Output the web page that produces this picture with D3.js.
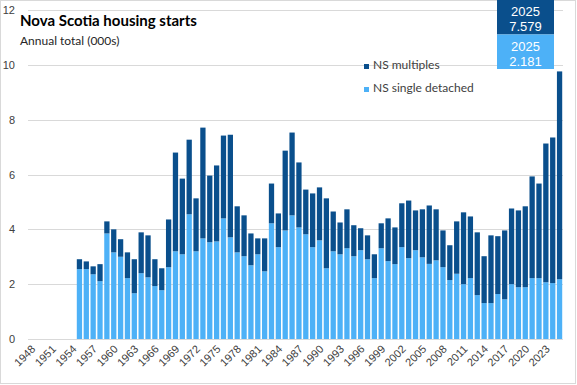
<!DOCTYPE html>
<html>
<head>
<meta charset="utf-8">
<script src="https://cdn.jsdelivr.net/npm/d3@7"></script>
<style>
  body { margin: 0; background: #fff; }
  svg { display: block; }
</style>
</head>
<body>
<div id="chart"></div>
<script>
// Nova Scotia housing starts, annual totals in thousands
var firstYear = 1948;
var lastYear = 2025;
var dataStart = 1955;

// NS single detached, 1955 - 2025
var singleDetached = [
  2.55, 2.55, 2.36, 2.11, 3.85, 3.16, 3.00, 2.22, 1.67, 2.40, 2.25, 1.93,
  1.78, 2.62, 3.20, 3.09, 4.55, 3.20, 3.67, 3.53, 3.56, 4.40, 3.71, 3.16,
  3.02, 2.69, 3.09, 2.47, 4.22, 3.35, 3.96, 4.51, 4.07, 3.82, 3.35, 3.60,
  2.58, 3.20, 3.09, 3.31, 3.02, 3.24, 2.91, 2.22, 3.31, 2.84, 2.73, 3.35,
  2.95, 3.24, 2.98, 2.74, 2.87, 2.62, 2.15, 2.38, 2.00, 2.22, 1.60, 1.31,
  1.31, 1.64, 1.45, 2.00, 1.89, 1.89, 2.22, 2.22, 2.07, 2.04, 2.181
];

// NS multiples, 1955 - 2025
var multiples = [
  0.36, 0.28, 0.29, 0.62, 0.44, 0.84, 0.64, 0.94, 1.24, 1.49, 1.53, 0.98,
  0.80, 1.74, 3.60, 2.76, 2.72, 1.93, 4.04, 2.43, 2.77, 3.02, 3.74, 1.68,
  1.49, 1.16, 0.58, 1.20, 1.45, 1.23, 2.91, 3.02, 2.37, 1.63, 1.96, 1.93,
  2.55, 1.45, 1.16, 1.42, 1.13, 0.80, 0.87, 0.87, 0.91, 1.56, 1.34, 1.60,
  2.10, 1.45, 1.75, 2.13, 1.86, 1.34, 1.27, 1.91, 2.62, 2.25, 2.29, 1.71,
  2.47, 2.11, 2.51, 2.76, 2.80, 2.95, 3.71, 3.45, 5.06, 5.31, 7.579
];

var yTicks = [0, 2, 4, 6, 8, 10, 12];
var seriesNames = ["NS multiples", "NS single detached"];

var darkBlue = "#0A4F8C";
var lightBlue = "#4DB1F7";

var svgWidth = 577;
var svgHeight = 385;

var plot = { left: 28, right: 563, top: 10, bottom: 339 };

var svg = d3.select("#chart")
  .append("svg")
  .attr("width", svgWidth)
  .attr("height", svgHeight);

// chart area border
svg.append("rect")
  .attr("x", 0.5).attr("y", 0.5)
  .attr("width", svgWidth - 2).attr("height", svgHeight - 2)
  .attr("fill", "none")
  .attr("stroke", "#d9d9d9");

var years = d3.range(firstYear, lastYear + 1);

// build the table for the stack
var table = singleDetached.map(function(s, i) {
  return { year: dataStart + i, single: s, multi: multiples[i] };
});

var xScale = d3.scaleBand()
  .domain(years)
  .range([plot.left, plot.right])
  .paddingInner(0.23)
  .paddingOuter(0.115);

var yScale = d3.scaleLinear()
  .domain([0, 12])
  .range([plot.bottom, plot.top]);

// gridlines
svg.append("g")
  .selectAll("line")
  .data(yTicks)
  .enter()
  .append("line")
  .attr("x1", plot.left)
  .attr("x2", plot.right)
  .attr("y1", d => Math.round(yScale(d)) + 0.5)
  .attr("y2", d => Math.round(yScale(d)) + 0.5)
  .attr("stroke", "#d9d9d9")
  .attr("stroke-width", 1);

// y axis labels
var leftAxis = d3.axisLeft(yScale).tickValues(yTicks).tickSize(0).tickPadding(0);
var yAxis = svg.append("g")
  .attr("transform", "translate(15,0)")
  .call(leftAxis);
yAxis.select(".domain").remove();
yAxis.selectAll("text")
  .style("font-family", "'Liberation Sans', Arial, sans-serif")
  .style("font-size", "11px")
  .attr("fill", "#404040");

// stacked bars
var stacked = d3.stack().keys(["single", "multi"])(table);
var colors = { single: lightBlue, multi: darkBlue };

svg.append("g")
  .selectAll("g")
  .data(stacked)
  .enter()
  .append("g")
  .attr("fill", d => colors[d.key])
  .selectAll("rect")
  .data(d => d)
  .enter()
  .append("rect")
  .attr("x", d => xScale(d.data.year))
  .attr("width", xScale.bandwidth())
  .attr("y", d => yScale(d[1]))
  .attr("height", d => yScale(d[0]) - yScale(d[1]));

// x axis labels, every third year, rotated
var xTickYears = years.filter(d => (d - firstYear) % 3 === 0);
var xAxisLabels = svg.append("g")
  .selectAll("text")
  .data(xTickYears)
  .enter()
  .append("text")
  .attr("transform", d => `translate(${xScale(d) + xScale.bandwidth() / 2 + 2}, ${plot.bottom + 8}) rotate(-45)`)
  .attr("text-anchor", "end")
  .attr("dy", "0.35em")
  .style("font-family", "'Liberation Sans', Arial, sans-serif")
  .style("font-size", "11px")
  .attr("fill", "#404040")
  .text(d => d);

// title and subtitle
svg.append("text")
  .attr("x", 20)
  .attr("y", 26)
  .style("font-family", "Lato, 'Liberation Sans', sans-serif")
  .style("font-weight", 700)
  .style("font-size", "15px")
  .attr("fill", "#000")
  .text("Nova Scotia housing starts");

svg.append("text")
  .attr("x", 20)
  .attr("y", 45)
  .style("font-family", "Lato, 'Liberation Sans', sans-serif")
  .style("font-size", "12px")
  .attr("fill", "#262626")
  .text("Annual total (000s)");

// legend
var legend = svg.append("g").attr("transform", "translate(364, 64)");
var legendItems = legend.selectAll("g")
  .data(seriesNames)
  .enter()
  .append("g")
  .attr("transform", (d, i) => `translate(0, ${i * 23})`);

legendItems.append("rect")
  .attr("width", 5)
  .attr("height", 5)
  .attr("fill", (d, i) => i === 0 ? darkBlue : lightBlue);

legendItems.append("text")
  .attr("x", 9)
  .attr("y", 5)
  .style("font-family", "Lato, 'Liberation Sans', sans-serif")
  .style("font-size", "12px")
  .attr("fill", "#404040")
  .text(d => d);

// 2025 call-out boxes
var last = table[table.length - 1];
var callouts = [
  { value: last.multi, fill: darkBlue },
  { value: last.single, fill: lightBlue }
];
var boxX = 497, boxW = 57, boxH = 34.5;

var box = svg.append("g")
  .selectAll("g")
  .data(callouts)
  .enter()
  .append("g")
  .attr("transform", (d, i) => `translate(${boxX}, ${i * boxH})`);

box.append("rect")
  .attr("width", boxW)
  .attr("height", boxH)
  .attr("fill", d => d.fill);

box.append("text")
  .attr("x", boxW / 2)
  .attr("y", 16)
  .attr("text-anchor", "middle")
  .style("font-family", "'Liberation Sans', Arial, sans-serif")
  .style("font-size", "13px")
  .attr("fill", "#fff")
  .text(lastYear);

box.append("text")
  .attr("x", boxW / 2)
  .attr("y", 31)
  .attr("text-anchor", "middle")
  .style("font-family", "'Liberation Sans', Arial, sans-serif")
  .style("font-size", "13px")
  .attr("fill", "#fff")
  .text(d => d3.format(".3f")(d.value));
</script>
</body>
</html>
